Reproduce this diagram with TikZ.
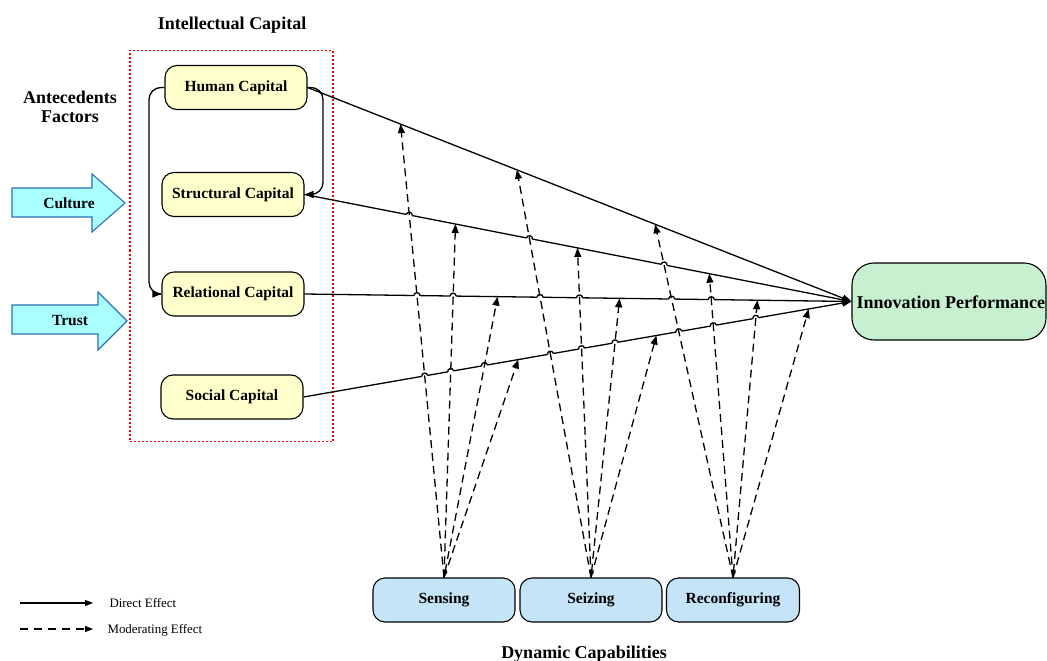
\documentclass[tikz,border=0pt]{standalone}
\usepackage{fontspec}
\setmainfont{Liberation Serif}
\usetikzlibrary{arrows.meta,calc}
\definecolor{capfill}{RGB}{255,255,204}
\definecolor{dcfill}{RGB}{198,228,248}
\definecolor{ipfill}{RGB}{198,240,208}
\definecolor{arrfill}{RGB}{170,255,255}
\definecolor{arrdraw}{RGB}{46,110,186}
\newcommand\hopat[3]{%
  \coordinate (X) at (intersection of #1--#2 and #3.east--ip.west);
  \fill[white] (X) circle (3pt);
  \draw[hopline] ($(X)!3pt!(#3.east)$) to[bend left=90, looseness=1.6] ($(X)!3pt!(ip.west)$);
}
\begin{document}
\begin{tikzpicture}[x=1pt,y=1pt,
  capbox/.style={draw=black, line width=1.1pt, rounded corners=12pt, fill=capfill,
    minimum width=142pt, minimum height=44pt, inner sep=0pt,
    font=\fontsize{15.5}{17}\selectfont\bfseries},
  dcbox/.style={capbox, fill=dcfill},
  headtext/.style={font=\fontsize{18}{19}\selectfont\bfseries, align=center},
  labtext/.style={font=\fontsize{15.5}{17}\selectfont\bfseries},
  legtext/.style={font=\fontsize{12.9}{14}\selectfont, anchor=west},
  direct/.style={line width=1.3pt, -{Triangle[length=9pt,width=7pt]}},
  moder/.style={line width=1.3pt, dash pattern=on 8pt off 5pt, -{Triangle[length=9pt,width=7pt]}},
  moderb/.style={moder, {Triangle[length=6pt,width=4.5pt]}-{Triangle[length=9pt,width=7pt]}},
  hopline/.style={line width=1.3pt},
  bigarrow/.style={draw=arrdraw, fill=arrfill, line width=1.1pt, line join=miter},
  icframe/.style={draw=red, line width=1.3pt, dash pattern=on 2pt off 2pt},
]
\useasboundingbox (0,0) rectangle (1047,-661);

% frame of intellectual capital
\node[icframe, minimum width=203pt, minimum height=391pt, inner sep=0pt] (icbox) at (231.5,-246) {};

% titles
\node[headtext] (ictitle) at (232,-25) {Intellectual Capital};
\node[headtext] (antec) at (70,-107) {Antecedents\\Factors};
\node[headtext] (dctitle) at (584,-654) {Dynamic Capabilities};

% capital nodes
\node[capbox] (hc) at (236,-87.5) {\raisebox{-1pt}{Human Capital}};
\node[capbox] (sc) at (233,-194.5) {\raisebox{-1pt}{Structural Capital}};
\node[capbox] (rc) at (233,-294) {\raisebox{-1pt}{Relational Capital}};
\node[capbox] (soc) at (232,-397) {\raisebox{-1pt}{Social Capital}};

% dynamic capabilities
\node[dcbox] (sen) at (444,-600) {\raisebox{-1pt}{Sensing}};
\node[dcbox] (sei) at (591,-600) {\raisebox{-1pt}{Seizing}};
\node[dcbox, minimum width=133pt] (rec) at (733,-600) {\raisebox{-1pt}{Reconfiguring}};

% innovation performance
\node[draw=black, line width=1.1pt, fill=ipfill, rounded corners=22pt,
      minimum width=194pt, minimum height=77pt, inner sep=0pt] (ip) at (949,-301.5) {};
\node[headtext, anchor=west, inner sep=0pt] (iptext) at ([xshift=5pt,yshift=-0.5pt]ip.west) {Innovation Performance};

% antecedent arrows
\draw[bigarrow] (12,-188) -- (92,-188) -- (92,-174) -- (125,-203) -- (92,-232) -- (92,-217) -- (12,-217) -- cycle;
\node[labtext] (culture) at (69,-203) {Culture};
\draw[bigarrow] (12,-305) -- (98,-305) -- (98,-292) -- (127,-321) -- (98,-350) -- (98,-334) -- (12,-334) -- cycle;
\node[labtext] (trust) at (70,-320.5) {Trust};

% curved links inside intellectual capital
\draw[direct, rounded corners=12pt] (hc.west) -| (149,-294) -- (rc.west);
\draw[direct, rounded corners=12pt] (hc.east) -| (323,-194.5) -- (sc.east);

% direct effects
\draw[direct] (hc.east) -- (ip.west);
\draw[direct] (sc.east) -- (ip.west);
\draw[direct] (rc.east) -- (ip.west);
\draw[direct] (soc.east) -- (ip.west);

% targets of moderating effects
\coordinate (h1) at ($(hc.east)!0.171!(ip.west)$);
\coordinate (h2) at ($(hc.east)!0.385!(ip.west)$);
\coordinate (h3) at ($(hc.east)!0.639!(ip.west)$);
\coordinate (s1) at ($(sc.east)!0.276!(ip.west)$);
\coordinate (s2) at ($(sc.east)!0.499!(ip.west)$);
\coordinate (s3) at ($(sc.east)!0.740!(ip.west)$);
\coordinate (r1) at ($(rc.east)!0.353!(ip.west)$);
\coordinate (r2) at ($(rc.east)!0.576!(ip.west)$);
\coordinate (r3) at ($(rc.east)!0.828!(ip.west)$);
\coordinate (o1) at ($(soc.east)!0.392!(ip.west)$);
\coordinate (o2) at ($(soc.east)!0.644!(ip.west)$);
\coordinate (o3) at ($(soc.east)!0.922!(ip.west)$);

% line jumps
\foreach \src/\a/\b/\c in {sen/h1/s1/r1, sei/h2/s2/r2, rec/h3/s3/r3}{
  \hopat{\src.north}{\a}{sc}
  \hopat{\src.north}{\a}{rc}
  \hopat{\src.north}{\a}{soc}
  \hopat{\src.north}{\b}{rc}
  \hopat{\src.north}{\b}{soc}
  \hopat{\src.north}{\c}{soc}
}

% moderating effects
\foreach \src/\a/\b/\c/\d in {sen/h1/s1/r1/o1, sei/h2/s2/r2/o2, rec/h3/s3/r3/o3}{
  \draw[moderb] (\src.north) -- (\c);
  \draw[moder] (\src.north) -- (\a);
  \draw[moder] (\src.north) -- (\b);
  \draw[moder] (\src.north) -- (\d);
}

% legend
\coordinate (la1) at (20,-603);
\coordinate (lb1) at (93,-603);
\coordinate (la2) at (20,-629);
\coordinate (lb2) at (93,-629);
\draw[line width=1.1pt, -{Triangle[length=8pt,width=6pt]}] (la1) -- (lb1);
\draw[line width=1.1pt, dash pattern=on 8pt off 6pt, -{Triangle[length=8pt,width=6pt]}] (la2) -- (lb2);
\node[legtext] (lt1) at (106,-603.5) {Direct Effect};
\node[legtext] (lt2) at (104,-630) {Moderating Effect};
\end{tikzpicture}
\end{document}
